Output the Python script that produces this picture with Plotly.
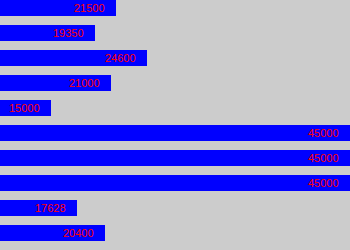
import plotly.graph_objects as go

categories = ["r1", "r2", "r3", "r4", "r5", "r6", "r7", "r8", "r9", "r10"]
values = [21500, 19350, 24600, 21000, 15000, 45000, 45000, 45000, 17628, 20400]
labels = ["21500", "19350", "24600", "21000", "15000", "45000", "45000", "45000", "17628", "20400"]

idx = list(range(len(categories)))

fig = go.Figure()
fig.add_trace(go.Bar(
    y=idx, x=values, base=0, orientation="h",
    width=0.64, marker=dict(color="#0000ff", line=dict(width=0)),
    hoverinfo="skip", cliponaxis=True,
))
for i, v, t in zip(idx, values, labels):
    fig.add_annotation(x=min(v, 44900), y=i, text=t, xanchor="right", yanchor="middle",
                       xshift=-9, showarrow=False,
                       font=dict(family="Liberation Sans", size=11, color="#ff0000"))

fig.update_layout(
    width=350, height=250,
    margin=dict(l=0, r=0, t=0, b=0),
    paper_bgcolor="#cccccc", plot_bgcolor="#cccccc",
    showlegend=False,
    bargap=0,
    xaxis=dict(range=[9900, 44900], visible=False, showgrid=False, zeroline=False),
    yaxis=dict(range=[9.68, -0.32], visible=False, showgrid=False, zeroline=False),
)
fig.write_html("out.html")
